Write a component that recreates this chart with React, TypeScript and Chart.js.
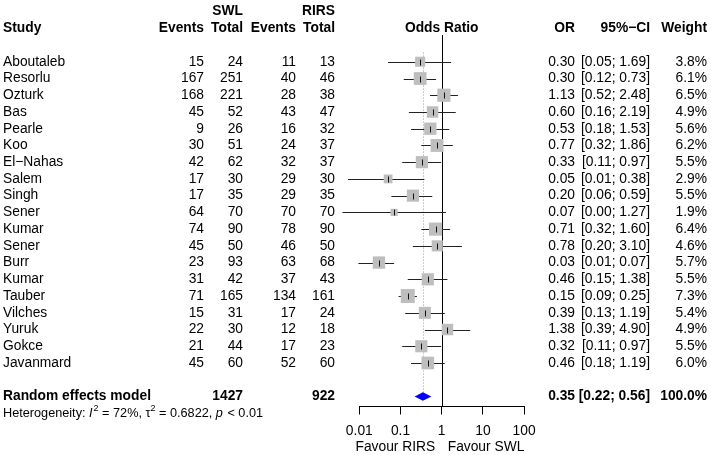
import React, { useEffect, useRef } from "react";
import { Chart, registerables } from "chart.js";

Chart.register(...registerables);

const studies = ["Aboutaleb", "Resorlu", "Ozturk", "Bas", "Pearle", "Koo", "El\u2212Nahas", "Salem", "Singh", "Sener", "Kumar", "Sener", "Burr", "Kumar", "Tauber", "Vilches", "Yuruk", "Gokce", "Javanmard"];
const swlEvents = [15, 167, 168, 45, 9, 30, 42, 17, 17, 64, 74, 45, 23, 31, 71, 15, 22, 21, 45];
const swlTotal = [24, 251, 221, 52, 26, 51, 62, 30, 35, 70, 90, 50, 93, 42, 165, 31, 30, 44, 60];
const rirsEvents = [11, 40, 28, 43, 16, 24, 32, 29, 29, 70, 78, 46, 63, 37, 134, 17, 12, 17, 52];
const rirsTotal = [13, 46, 38, 47, 32, 37, 37, 30, 35, 70, 90, 50, 68, 43, 161, 24, 18, 23, 60];
const oddsRatio = [0.30, 0.30, 1.13, 0.60, 0.53, 0.77, 0.33, 0.05, 0.20, 0.07, 0.71, 0.78, 0.03, 0.46, 0.15, 0.39, 1.38, 0.32, 0.46];
const ciLower = [0.05, 0.12, 0.52, 0.16, 0.18, 0.32, 0.11, 0.0053, 0.06, 0.0039, 0.32, 0.20, 0.0095, 0.15, 0.09, 0.13, 0.39, 0.11, 0.18];
const ciUpper = [1.69, 0.73, 2.48, 2.19, 1.53, 1.86, 0.97, 0.38, 0.59, 1.27, 1.60, 3.10, 0.07, 1.38, 0.25, 1.19, 4.90, 0.97, 1.19];
const weights = [3.8, 6.1, 6.5, 4.9, 5.6, 6.2, 5.5, 2.9, 5.5, 1.9, 6.4, 4.6, 5.7, 5.5, 7.3, 5.4, 4.9, 5.5, 6.0];

const summaryOR = 0.35;
const summaryLower = 0.22;
const summaryUpper = 0.56;
const summaryWeight = "100.0%";
const heterogeneityI2 = "72%";
const heterogeneityTau2 = "0.6822";
const heterogeneityP = "< 0.01";

const tickValues = [0.01, 0.1, 1, 10, 100];
const tickLabels = ["0.01", "0.1", "1", "10", "100"];

const FONT = '"Liberation Sans", Arial, Helvetica, sans-serif';
const FS = 13.8;

export default function App() {
  const ref = useRef<HTMLCanvasElement>(null);

  useEffect(() => {
    const canvas = ref.current!;
    const n = studies.length;
    const summaryRow = n + 1;
    const hetRow = n + 2;

    const forestPlugin = {
      id: "forest",
      beforeDatasetsDraw(chart: any) {
        const { ctx, chartArea, scales } = chart;
        const xs = scales.x;
        const ys = scales.y;
        ctx.save();
        ctx.lineWidth = 1;
        // line of no effect
        const x1 = Math.round(xs.getPixelForValue(1)) + 0.5;
        ctx.strokeStyle = "#000";
        ctx.beginPath();
        ctx.moveTo(x1, chartArea.top);
        ctx.lineTo(x1, chartArea.bottom);
        ctx.stroke();
        // dotted summary line
        const xsum = Math.round(xs.getPixelForValue(summaryOR)) + 0.5;
        ctx.strokeStyle = "#9a9a9a";
        ctx.setLineDash([1, 2]);
        ctx.beginPath();
        ctx.moveTo(xsum, ys.getPixelForValue(-0.55));
        ctx.lineTo(xsum, ys.getPixelForValue(summaryRow) - 4);
        ctx.stroke();
        ctx.setLineDash([]);
        // CI lines
        ctx.strokeStyle = "#222";
        for (let i = 0; i < n; i++) {
          const y = Math.round(ys.getPixelForValue(i)) + 0.5;
          ctx.beginPath();
          ctx.moveTo(xs.getPixelForValue(ciLower[i]), y);
          ctx.lineTo(xs.getPixelForValue(ciUpper[i]), y);
          ctx.stroke();
        }
        ctx.restore();
      },
      afterDatasetsDraw(chart: any) {
        const { ctx, scales } = chart;
        const xs = scales.x;
        const ys = scales.y;
        ctx.save();
        // estimate ticks
        ctx.strokeStyle = "#111";
        ctx.lineWidth = 1;
        for (let i = 0; i < n; i++) {
          const x = Math.round(xs.getPixelForValue(oddsRatio[i])) + 0.5;
          const y = Math.round(ys.getPixelForValue(i)) + 0.5;
          ctx.beginPath();
          ctx.moveTo(x, y - 3);
          ctx.lineTo(x, y + 3);
          ctx.stroke();
        }
        // diamond
        const yd = ys.getPixelForValue(summaryRow);
        ctx.fillStyle = "#0000FF";
        ctx.beginPath();
        ctx.moveTo(xs.getPixelForValue(summaryLower), yd);
        ctx.lineTo(xs.getPixelForValue(summaryOR), yd - 4.2);
        ctx.lineTo(xs.getPixelForValue(summaryUpper), yd);
        ctx.lineTo(xs.getPixelForValue(summaryOR), yd + 4.2);
        ctx.closePath();
        ctx.fill();
        ctx.restore();
      },
      afterDraw(chart: any) {
        const { ctx, scales } = chart;
        const xs = scales.x;
        const ys = scales.y;
        ctx.save();
        ctx.fillStyle = "#000";
        ctx.textBaseline = "middle";
        const txt = (s: string, x: number, y: number, align: CanvasTextAlign, bold = false, size = FS, italic = false) => {
          ctx.font = `${italic ? "italic " : ""}${bold ? "bold " : ""}${size}px ${FONT}`;
          ctx.textAlign = align;
          ctx.fillText(s, x, y);
        };
        const cStudy = 3, cSE = 204, cST = 243, cRE = 296, cRT = 335, cOR = 575, cCI = 650, cW = 707;
        const xOne = xs.getPixelForValue(1);
        // headers
        const yH1 = ys.getPixelForValue(-3);
        const yH2 = ys.getPixelForValue(-2);
        txt("SWL", cST, yH1, "right", true);
        txt("RIRS", cRT, yH1, "right", true);
        txt("Study", cStudy, yH2, "left", true);
        txt("Events", cSE, yH2, "right", true);
        txt("Total", cST, yH2, "right", true);
        txt("Events", cRE, yH2, "right", true);
        txt("Total", cRT, yH2, "right", true);
        txt("Odds Ratio", xOne, yH2, "center", true);
        txt("OR", cOR, yH2, "right", true);
        txt("95%\u2212CI", cCI, yH2, "right", true);
        txt("Weight", cW, yH2, "right", true);
        // rows
        for (let i = 0; i < n; i++) {
          const y = ys.getPixelForValue(i);
          txt(studies[i], cStudy, y, "left");
          txt(String(swlEvents[i]), cSE, y, "right");
          txt(String(swlTotal[i]), cST, y, "right");
          txt(String(rirsEvents[i]), cRE, y, "right");
          txt(String(rirsTotal[i]), cRT, y, "right");
          txt(oddsRatio[i].toFixed(2), cOR, y, "right");
          txt(`[${ciLower[i].toFixed(2)}; ${ciUpper[i].toFixed(2)}]`, cCI, y, "right");
          txt(`${weights[i].toFixed(1)}%`, cW, y, "right");
        }
        // summary
        const ys2 = ys.getPixelForValue(summaryRow);
        const totSWL = swlTotal.reduce((a, b) => a + b, 0);
        const totRIRS = rirsTotal.reduce((a, b) => a + b, 0);
        txt("Random effects model", cStudy, ys2, "left", true);
        txt(String(totSWL), cST, ys2, "right", true);
        txt(String(totRIRS), cRT, ys2, "right", true);
        txt(summaryOR.toFixed(2), cOR, ys2, "right", true);
        txt(`[${summaryLower.toFixed(2)}; ${summaryUpper.toFixed(2)}]`, cCI, ys2, "right", true);
        txt(summaryWeight, cW, ys2, "right", true);
        // heterogeneity
        const yh = ys.getPixelForValue(hetRow);
        const hs = 12.7;
        const sup = 9;
        const parts: [string, boolean, boolean][] = [
          ["Heterogeneity: ", false, false],
          ["I", true, false],
          ["2", false, true],
          [` = ${heterogeneityI2}, `, false, false],
          ["\u03c4", false, false],
          ["2", false, true],
          [` = ${heterogeneityTau2}, `, false, false],
          ["p", true, false],
          [` ${heterogeneityP}`, false, false],
        ];
        let hx = cStudy;
        ctx.textAlign = "left";
        for (const [s, it, sp] of parts) {
          ctx.font = `${it ? "italic " : ""}${sp ? sup : hs}px ${FONT}`;
          ctx.fillText(s, hx, sp ? yh - 5 : yh);
          hx += ctx.measureText(s).width + (it ? 1 : 0);
        }
        // favour labels
        const yf = 447;
        txt("Favour RIRS", xOne - 6.5, yf, "right");
        txt("Favour SWL", xOne + 6, yf, "left");
        ctx.restore();
      },
    };

    const chart = new Chart(canvas, {
      type: "scatter",
      data: {
        datasets: [
          {
            data: oddsRatio.map((v, i) => ({ x: v, y: i })),
            pointStyle: "rect",
            pointRadius: weights.map((w) => (5.18 * Math.sqrt(w)) / Math.SQRT2),
            backgroundColor: "#BEBEBE",
            borderWidth: 0,
            clip: false as any,
          },
        ],
      },
      options: {
        animation: false,
        responsive: false,
        devicePixelRatio: 1,
        events: [],
        layout: { padding: { left: 359.3, right: 711 - 524.1, top: 35, bottom: 8.5 } },
        plugins: { legend: { display: false }, tooltip: { enabled: false } },
        scales: {
          x: {
            type: "logarithmic",
            min: 0.01,
            max: 100,
            position: "bottom",
            afterBuildTicks: (scale: any) => {
              scale.ticks = tickValues.map((v) => ({ value: v }));
            },
            afterFit: (scale: any) => {
              scale.height = 40;
            },
            ticks: {
              callback: (_v: any, i: number) => tickLabels[i],
              color: "#000",
              font: { family: FONT, size: FS },
              padding: 8,
              maxRotation: 0,
              autoSkip: false,
            },
            grid: { drawOnChartArea: false, drawTicks: true, tickLength: 8, color: "#000", lineWidth: 1 },
            border: { display: true, color: "#000", width: 1 },
          },
          y: { type: "linear", min: -1.6, max: 20.6, reverse: true, display: false },
        },
      },
      plugins: [forestPlugin],
    } as any);

    return () => chart.destroy();
  }, []);

  return (
    <div style={{ position: "absolute", left: 0, top: 0, width: 711, height: 455, background: "#fff" }}>
      <canvas ref={ref} width={711} height={455} style={{ display: "block" }} />
    </div>
  );
}
